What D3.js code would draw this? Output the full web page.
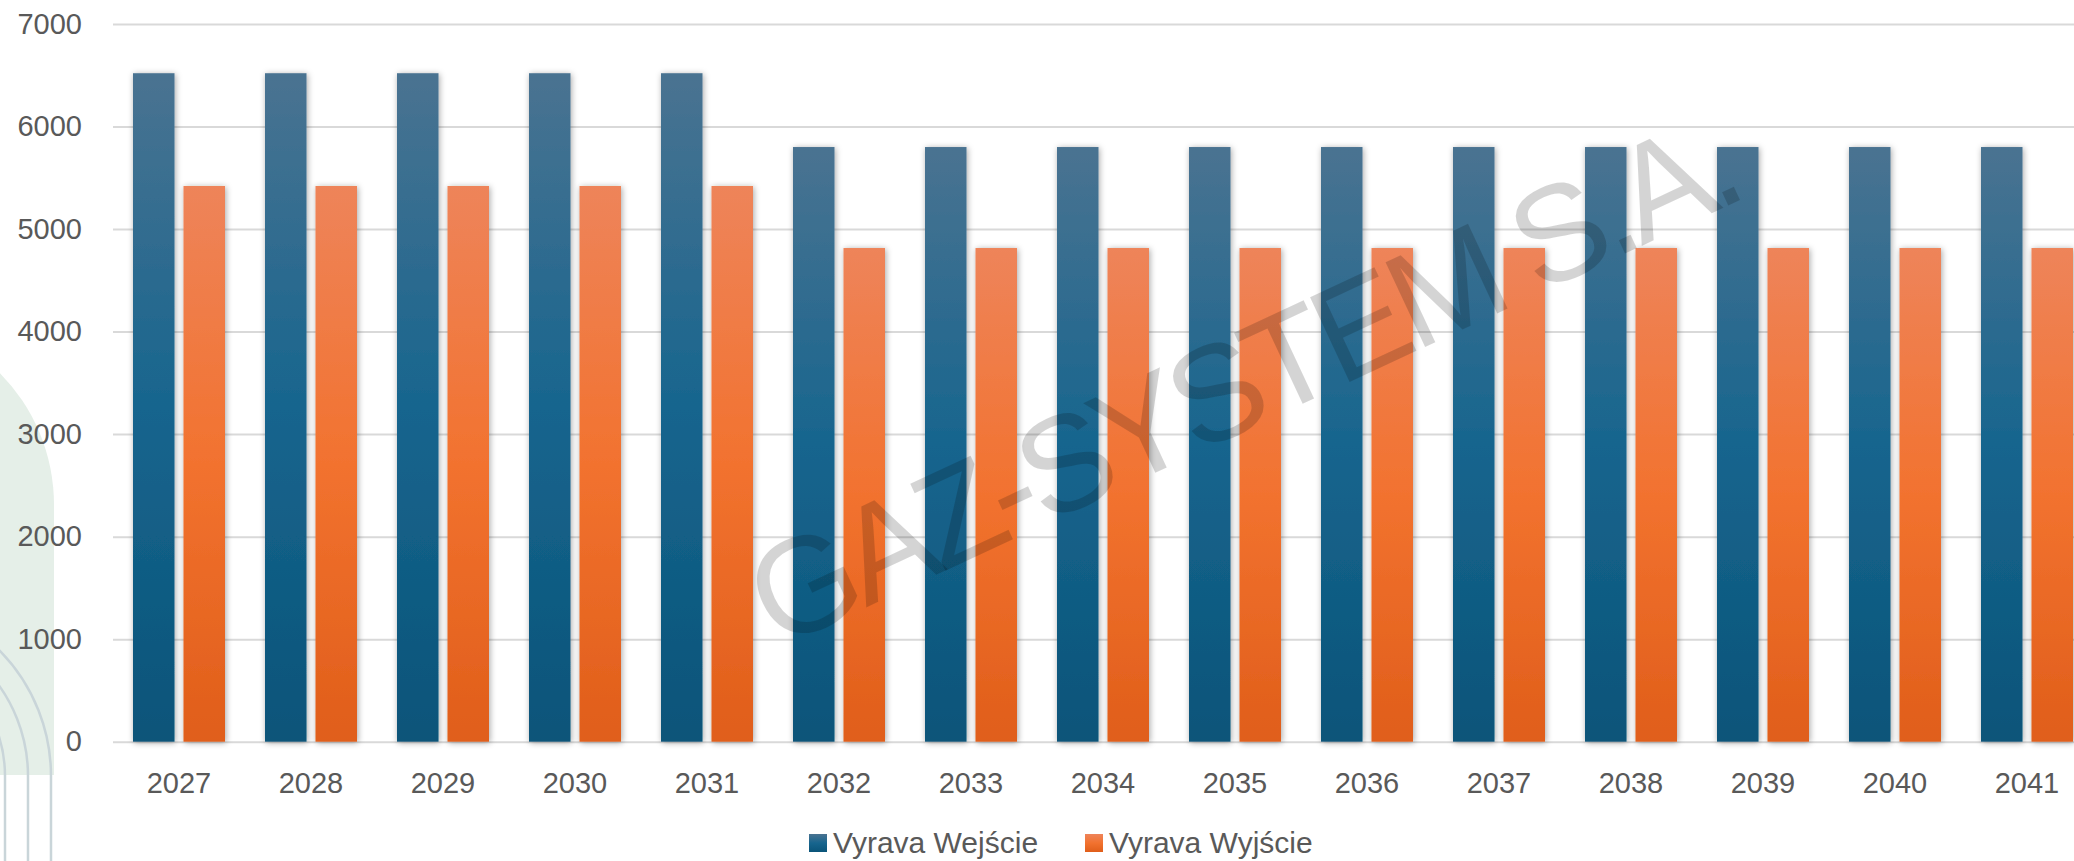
<!DOCTYPE html>
<html>
<head>
<meta charset="utf-8">
<script src="https://cdn.jsdelivr.net/npm/d3@7"></script>
<style>
  body { margin: 0; background: #fff; }
  svg { display: block; font-family: "Liberation Sans", Arial, sans-serif; }
</style>
</head>
<body>
<svg id="chart" width="2074" height="861"></svg>
<script>
// chart data
var years = ["2027", "2028", "2029", "2030", "2031", "2032", "2033", "2034",
             "2035", "2036", "2037", "2038", "2039", "2040", "2041"];
var series = ["Vyrava Wejście", "Vyrava Wyjście"];
var wejscie = [6520, 6520, 6520, 6520, 6520, 5800, 5800, 5800, 5800, 5800, 5800, 5800, 5800, 5800, 5800];
var wyjscie = [5420, 5420, 5420, 5420, 5420, 4815, 4815, 4815, 4815, 4815, 4815, 4815, 4815, 4815, 4815];
var yTicks = [0, 1000, 2000, 3000, 4000, 5000, 6000, 7000];

var svg = d3.select("#chart");
var plotLeft = 113, plotTop = 24, plotBottom = 741.7, step = 132;

var defs = svg.append("defs");
function grad(id, stops) {
    var g = defs.append("linearGradient").attr("id", id)
        .attr("x1", 0).attr("y1", 0).attr("x2", 0).attr("y2", 1);
    stops.forEach(function (s) {
        g.append("stop").attr("offset", s[0]).attr("stop-color", s[1]);
    });
}
grad("gBlue", [[0, "#4a7391"], [0.5, "#17658e"], [1, "#0a5479"]]);
grad("gOrange", [[0, "#ee845a"], [0.5, "#f2722f"], [1, "#e05e1a"]]);
var colors = ["url(#gBlue)", "url(#gOrange)"];

defs.append("filter").attr("id", "shadow")
    .attr("x", "-30%").attr("y", "-10%").attr("width", "160%").attr("height", "120%")
    .append("feDropShadow")
    .attr("dx", 1).attr("dy", 1).attr("stdDeviation", 3)
    .attr("flood-color", "#000").attr("flood-opacity", 0.35);

// background decoration on the left
svg.append("path")
    .attr("d", "M-322,775 L-322,505 A188,188 0 0 1 54,505 L54,775 Z")
    .attr("fill", "#e5efe8");
[132.7, 155.7, 178.7].forEach(function (r) {
    svg.append("path")
        .attr("d", "M" + (-127.7 - r) + ",900 L" + (-127.7 - r) + ",776 A" + r + "," + r +
              " 0 0 1 " + (-127.7 + r) + ",776 L" + (-127.7 + r) + ",900")
        .attr("fill", "none")
        .attr("stroke", "#c9d5d9")
        .attr("stroke-width", 2.5);
});

var x0 = d3.scaleBand().domain(years).range([plotLeft, plotLeft + step * years.length]);
var x1 = d3.scaleBand().domain(series).range([20, 112]).paddingInner(0.178);
var y = d3.scaleLinear().domain([0, 7000]).range([plotBottom, plotTop]);

// y axis + gridlines
var yAxis = svg.append("g")
    .attr("transform", "translate(" + plotLeft + ",0)")
    .call(d3.axisLeft(y).tickValues(yTicks).tickFormat(d3.format("d"))
        .tickSize(-(2074 - plotLeft)).tickPadding(31));
yAxis.select(".domain").remove();
yAxis.selectAll("line").attr("stroke", "#d9d9d9").attr("stroke-width", 2);
yAxis.selectAll("text")
    .attr("fill", "#595959")
    .style("font-size", "29px")
    .style("font-family", "'Liberation Sans', Arial, sans-serif");

// x labels
svg.append("g").selectAll("text")
    .data(years)
    .enter()
    .append("text")
    .attr("x", function (d) { return x0(d) + x0.bandwidth() / 2; })
    .attr("y", 793)
    .attr("text-anchor", "middle")
    .attr("fill", "#595959")
    .style("font-size", "29px")
    .text(function (d) { return d; });

// bars
var values = [wejscie, wyjscie];
var groups = svg.append("g").selectAll("g")
    .data(years)
    .enter()
    .append("g")
    .attr("transform", function (d) { return "translate(" + x0(d) + ",0)"; });

groups.selectAll("rect")
    .data(function (d, i) {
        return series.map(function (s, j) { return { s: s, j: j, v: values[j][i] }; });
    })
    .enter()
    .append("rect")
    .attr("x", function (d) { return x1(d.s); })
    .attr("width", x1.bandwidth())
    .attr("y", function (d) { return y(d.v); })
    .attr("height", function (d) { return y(0) - y(d.v); })
    .attr("fill", function (d) { return colors[d.j]; })
    .attr("filter", "url(#shadow)");

// legend
var legendX = [809, 1085];
var legend = svg.append("g").selectAll("g")
    .data(series)
    .enter()
    .append("g")
    .attr("transform", function (d, i) { return "translate(" + legendX[i] + ",834)"; });
legend.append("rect")
    .attr("width", 18).attr("height", 18)
    .attr("fill", function (d, i) { return colors[i]; });
legend.append("text")
    .attr("x", 24).attr("y", 19)
    .attr("fill", "#595959")
    .style("font-size", "30px")
    .text(function (d) { return d; });

// watermark
svg.append("text")
    .attr("transform", "translate(1264,422) rotate(-25)")
    .attr("text-anchor", "middle")
    .attr("fill", "#000")
    .attr("fill-opacity", 0.17)
    .attr("textLength", 1075)
    .attr("lengthAdjust", "spacing")
    .style("font-size", "136px")
    .text("GAZ-SYSTEM S.A.");
</script>
</body>
</html>
